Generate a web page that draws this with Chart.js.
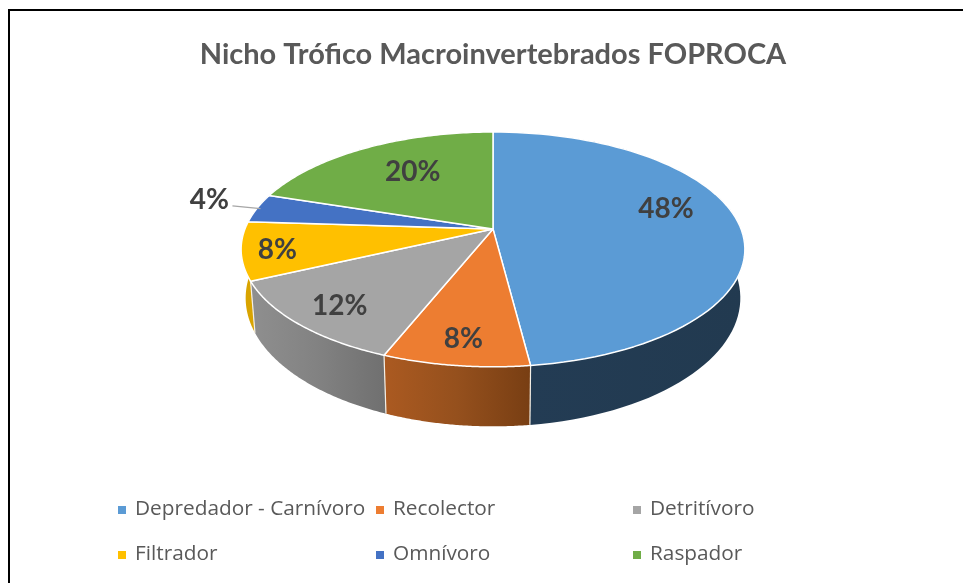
<!DOCTYPE html>
<html lang="es">
<head>
<meta charset="utf-8">
<title>Nicho Trófico Macroinvertebrados FOPROCA</title>
<script src="https://cdn.jsdelivr.net/npm/chart.js@4"></script>
<style>
  html, body { margin: 0; padding: 0; background: #fff; overflow: hidden; }
  #frame { position: absolute; left: 8px; top: 9px; width: 960px; height: 580px;
           border: 2px solid #000; box-sizing: border-box; }
  #wrap { position: absolute; left: 0; top: 0; width: 963px; height: 583px; }
</style>
</head>
<body>
<div id="frame"></div>
<div id="wrap"><canvas id="chart"></canvas></div>
<script>
// ── Data ─────────────────────────────────────────────────
const categories = ['Depredador - Carnívoro', 'Recolector', 'Detritívoro', 'Filtrador', 'Omnívoro', 'Raspador'];
const percents   = [48, 8, 12, 8, 4, 20];
const topColors  = ['#5b9bd5', '#ed7d31', '#a5a5a5', '#ffc000', '#4472c4', '#70ad47'];
// wall shading, left → right
const wallColors = [
  ['#33557a', '#233c54', '#223a50'],
  ['#ab5a21', '#95501d', '#783e13'],
  ['#8f8f8f', '#828282', '#707070'],
  ['#d9a400', '#d9a400', '#d9a400'],
  ['#2f5597', '#2f5597', '#2f5597'],
  ['#4f7a32', '#4f7a32', '#4f7a32'],
];

// ── Perspective of the tilted pie ────────────────────────
const PERSP = 0.1745;      // how much nearer points grow
const SQUASH = 0.459;      // y radius / x radius
const WALL_SX = 0.982, WALL_SY = 1.093, WALL_DY = 46.7;

// label placement on the disc: radius fraction, angle shift in degrees
const labelRadius = [0.749, 0.82, 0.81, 0.86, 1.234, 0.672];
const labelShift  = [-11.9, 0, 0, 0, 2.6, 4];

function project(el, theta, f = 1) {
  // theta is the canvas angle, -PI/2 = back of the pie
  const u = Math.cos(theta) * f, v = Math.sin(theta) * f;
  const den = 1 - PERSP * v;
  return { x: el.x + el.outerRadius * u / den, y: el.y + el.outerRadius * SQUASH * v / den };
}

function toWall(el, p) {
  return { x: el.x + (p.x - el.x) * WALL_SX, y: el.y + (p.y - el.y) * WALL_SY + WALL_DY };
}

function rimPoints(el) {
  const pts = [];
  const steps = 80;
  for (let s = 0; s <= steps; s++) {
    pts.push(project(el, el.startAngle + (el.endAngle - el.startAngle) * s / steps));
  }
  return pts;
}

// ── Draws the pie elements in perspective ────────────────
const pie3d = {
  id: 'pie3d',
  beforeDatasetDraw(chart, args) {
    const { ctx } = chart;
    const arcs = args.meta.data;

    // walls, one closed ribbon per slice
    arcs.forEach((el, i) => {
      const pts = rimPoints(el);
      const xs = pts.map(p => p.x);
      const grad = ctx.createLinearGradient(Math.min(...xs), 0, Math.max(...xs), 0);
      wallColors[i].forEach((c, k) => grad.addColorStop(i === 0 ? [0, 0.12, 1][k] : k / 2, c));
      ctx.beginPath();
      pts.forEach(p => ctx.lineTo(p.x, p.y));
      pts.slice().reverse().forEach(p => {
        const q = toWall(el, p);
        ctx.lineTo(q.x, q.y);
      });
      ctx.closePath();
      ctx.fillStyle = grad;
      ctx.fill();
    });

    // seams between the visible walls
    ctx.strokeStyle = '#f4efe6';
    ctx.lineWidth = 1.2;
    arcs.forEach(el => {
      const p = project(el, el.endAngle);
      if (p.y < el.y + 40) return;
      const q = toWall(el, p);
      ctx.beginPath(); ctx.moveTo(p.x, p.y); ctx.lineTo(q.x, q.y); ctx.stroke();
    });

    // top face
    arcs.forEach((el, i) => {
      ctx.beginPath();
      ctx.moveTo(el.x, el.y);
      rimPoints(el).forEach(p => ctx.lineTo(p.x, p.y));
      ctx.closePath();
      ctx.fillStyle = topColors[i];
      ctx.fill();
      ctx.strokeStyle = '#ffffff';
      ctx.lineWidth = 1.5;
      ctx.lineJoin = 'round';
      ctx.stroke();
    });
    return false;
  },
  afterDatasetsDraw(chart) {
    const { ctx } = chart;
    const arcs = chart.getDatasetMeta(0).data;
    ctx.save();
    ctx.font = 'bold 28px Lato, sans-serif';
    ctx.textAlign = 'center';
    ctx.textBaseline = 'middle';
    arcs.forEach((el, i) => {
      const mid = (el.startAngle + el.endAngle) / 2;
      const p = project(el, mid + labelShift[i] * Math.PI / 180, labelRadius[i]);
      if (labelRadius[i] > 1) {
        // leader line for the outside label
        const edge = project(el, mid, 0.985);
        ctx.strokeStyle = '#a6a6a6';
        ctx.lineWidth = 1.2;
        ctx.beginPath();
        ctx.moveTo(p.x + 23, p.y + 8);
        ctx.lineTo(edge.x, edge.y);
        ctx.stroke();
      }
      ctx.fillStyle = '#404040';
      ctx.fillText(percents[i] + '%', p.x, p.y + 2);
    });
    ctx.restore();
  },
  // legend grid under the pie, taken from the chart's own legend items
  afterDraw(chart) {
    const { ctx } = chart;
    const items = chart.options.plugins.legend.labels.generateLabels(chart);
    const colX = [118, 376, 633], rowY = [510, 555];
    ctx.save();
    ctx.font = '20.8px "Open Sans", sans-serif';
    ctx.textAlign = 'left';
    ctx.textBaseline = 'middle';
    items.forEach((it, i) => {
      const x = colX[i % 3], y = rowY[Math.floor(i / 3)];
      ctx.fillStyle = it.fillStyle;
      ctx.fillRect(x, y - 4, 8, 8);
      ctx.fillStyle = '#595959';
      ctx.fillText(it.text, x + 17, y - 1);
    });
    ctx.restore();
  }
};

new Chart(document.getElementById('chart'), {
  type: 'pie',
  data: {
    labels: categories,
    datasets: [{ data: percents, backgroundColor: topColors, borderColor: '#fff', borderWidth: 1.5 }]
  },
  options: {
    responsive: true, maintainAspectRatio: false, animation: false,
    radius: 248,
    // pie centre ends up at 493, 229
    layout: { padding: { left: 23, right: 0, top: 0, bottom: 197 } },
    plugins: {
      legend: { display: false },
      tooltip: { enabled: false },
      title: {
        display: true,
        text: 'Nicho Trófico Macroinvertebrados FOPROCA',
        color: '#595959',
        font: { family: 'Lato, sans-serif', size: 29, weight: 'bold' },
        padding: { top: 37, bottom: 0 }
      }
    }
  },
  plugins: [pie3d]
});
</script>
</body>
</html>
